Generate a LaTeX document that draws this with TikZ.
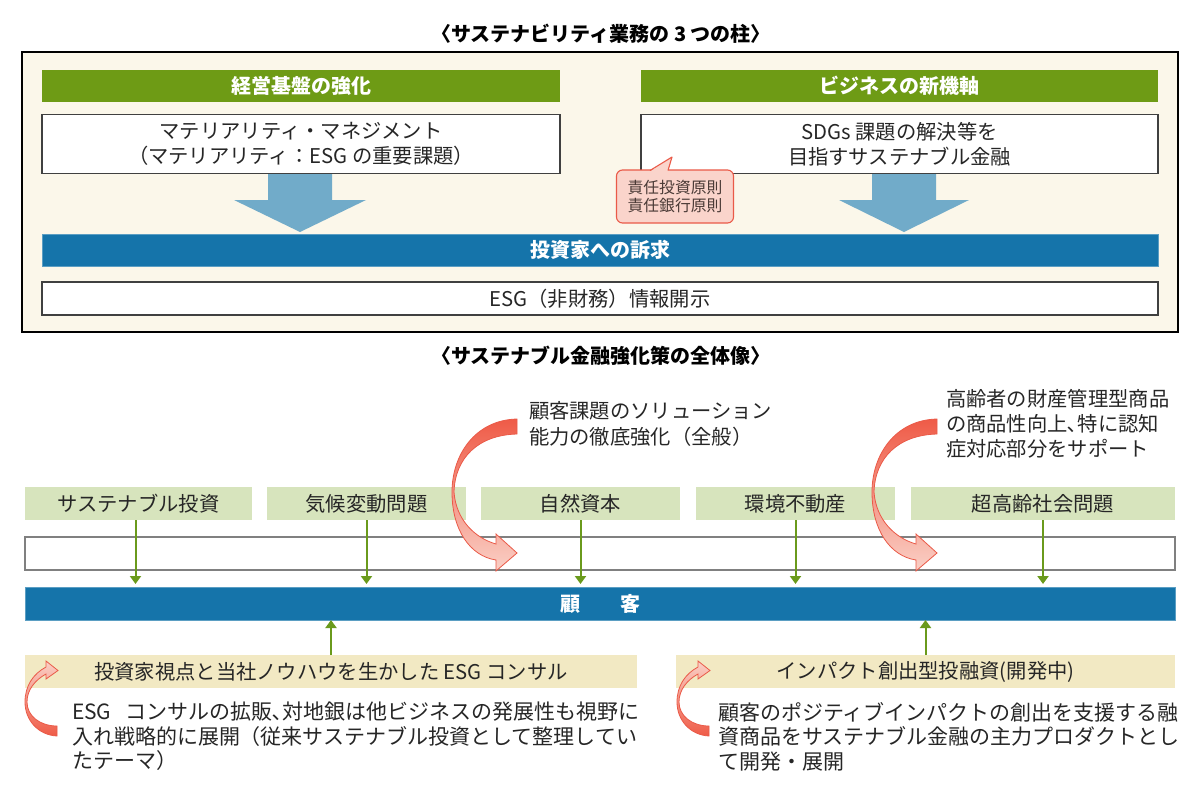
\documentclass[tikz,border=0pt]{standalone}
\usepackage{fontspec}
\setmainfont{Noto Sans CJK JP}
\usetikzlibrary{arrows.meta}
\definecolor{hdrgreen}{HTML}{6E9B15}
\definecolor{barblue}{HTML}{1574AA}
\definecolor{arrblue}{HTML}{71ABC9}
\definecolor{cream}{HTML}{FBF7EA}
\definecolor{lgreen}{HTML}{D7E4BD}
\definecolor{beige}{HTML}{F2E9C3}
\definecolor{agreen}{HTML}{6A9A1C}
\definecolor{txt}{HTML}{262626}
\definecolor{boxgray}{HTML}{404040}
\definecolor{stripgray}{HTML}{808080}
\definecolor{pinkfill}{HTML}{FAD4CB}
\definecolor{redline}{HTML}{EA5A48}
\definecolor{reddark}{HTML}{EF5B47}
\definecolor{redlight}{HTML}{FAD0C6}
\definecolor{calltext}{HTML}{4A3A36}
\begin{document}
\begin{tikzpicture}[x=1pt,y=-1pt,
  every node/.style={inner sep=0pt,outer sep=0pt,text=txt},
  ftext/.style={font=\fontsize{20.3}{25}\selectfont},
  fbold/.style={font=\bfseries\fontsize{20}{25}\selectfont},
  hdr/.style={fbold,fill=hdrgreen,text=white,minimum height=32pt},
  wbox/.style={ftext,fill=white,draw=boxgray,line width=1.3pt,align=center},
  bluebar/.style={fbold,fill=barblue,text=white,draw=barblue!70!white,line width=0.8pt},
  gbox/.style={ftext,fill=lgreen,minimum height=33pt},
  bbox/.style={ftext,fill=beige,minimum height=33pt},
  garrow/.style={draw=agreen,line width=2pt,-{Triangle[width=11pt,length=8pt]}},
  curly/.style={draw=redline,line width=0.8pt},
  ttl/.style={font=\bfseries\fontsize{20}{24}\selectfont,text=black},
  desc/.style={font=\fontsize{21}{24.5}\selectfont,align=left},
  callbox/.style={font=\fontsize{15.8}{18.5}\selectfont,align=center,text=calltext,
     fill=pinkfill,draw=redline,line width=1.1pt,rounded corners=6pt},
]
\useasboundingbox (0,0) rectangle (1200,796);

% ---------- top section ----------
\node[ttl] (t1) at (601,34) {〈サステナビリティ業務の 3 つの柱〉};
\node[draw=black,line width=2pt,fill=cream,minimum width=1156pt,minimum height=280pt] (frame) at (600,192) {};

% blue block arrows
\fill[arrblue] (268,170) -- (332,170) -- (332,200) -- (366,200) -- (300,232) -- (234,200) -- (268,200) -- cycle;
\fill[arrblue] (872,170) -- (936,170) -- (936,200) -- (969,200) -- (904,232) -- (839,200) -- (872,200) -- cycle;

\node[hdr,minimum width=518pt] (hL) at (301,86) {経営基盤の強化};
\node[hdr,minimum width=517pt] (hR) at (899.5,86) {ビジネスの新機軸};
\node[wbox,minimum width=518pt,minimum height=59pt] (wL) at (301,144) {マテリアリティ・マネジメント\\（マテリアリティ：ESG の重要課題）};
\node[wbox,minimum width=517pt,minimum height=59pt] (wR) at (899.5,144) {SDGs 課題の解決等を\\目指すサステナブル金融};
\node[bluebar,minimum width=1116pt,minimum height=32pt] (inv) at (600,250) {投資家への訴求};
\node[wbox,minimum width=1116pt,minimum height=33pt] (esg) at (600,298.5) {ESG（非財務）情報開示};

% callout
\node[callbox,minimum width=117pt,minimum height=53pt] (call) at (675,196.5) {責任投資原則\\責任銀行原則};
\coordinate (ctip) at (672,157);
\fill[pinkfill] (650,171.5) -- (ctip) -- (668,171.5) -- cycle;
\draw[redline,line width=1.1pt,line join=round] (650,170.5) -- (ctip) -- (668,170.5);

% ---------- bottom section ----------
\node[ttl] (t2) at (601,356) {〈サステナブル金融強化策の全体像〉};

\node[gbox,minimum width=227pt] (g1) at (138.5,503.5) {サステナブル投資};
\node[gbox,minimum width=199pt] (g2) at (366.5,503.5) {気候変動問題};
\node[gbox,minimum width=199pt] (g3) at (580.5,503.5) {自然資本};
\node[gbox,minimum width=199pt] (g4) at (795.5,503.5) {環境不動産};
\node[gbox,minimum width=264pt] (g5) at (1043,503.5) {超高齢社会問題};

\node[draw=stripgray,line width=1.2pt,fill=white,minimum width=1150pt,minimum height=33pt] (strip) at (600,553.5) {};
\node[bluebar,minimum width=1150pt,minimum height=33pt] (cust) at (600,603.5) {顧　　客};

\node[bbox,minimum width=612pt] (b1) at (331,671.5) {投資家視点と当社ノウハウを生かした ESG コンサル};
\node[bbox,minimum width=499pt] (b2) at (925.5,671.5) {インパクト創出型投融資(開発中)};

% green arrows
\draw[garrow,shorten >=3pt] ([xshift=-3pt]g1.south) -- ([xshift=-3pt]g1.south |- cust.north);
\draw[garrow,shorten >=3pt] (g2.south) -- (g2.south |- cust.north);
\draw[garrow,shorten >=3pt] (g3.south) -- (g3.south |- cust.north);
\draw[garrow,shorten >=3pt] (g4.south) -- (g4.south |- cust.north);
\draw[garrow,shorten >=3pt] (g5.south) -- (g5.south |- cust.north);
\draw[garrow] (b1.north) -- (b1.north |- cust.south);
\draw[garrow] (b2.north) -- (b2.north |- cust.south);

% big curved arrows
\foreach \dx in {0,420}{
\begin{scope}[xshift=\dx]
\path[curly,top color=reddark,bottom color=redlight]
  (517,419) .. controls (475,420) and (452,455) .. (452,492)
  .. controls (452,530) and (470,556) .. (496,560)
  -- (496,571) -- (517,553) -- (496,534) -- (496,544)
  .. controls (475,538) and (456,520) .. (454,492)
  .. controls (455,458) and (478,435) .. (517,434) -- cycle;
\end{scope}}

% small curved arrows
\foreach \dx in {0,652}{
\begin{scope}[xshift=\dx]
\path[curly,top color=redlight,bottom color=reddark]
  (57,736) .. controls (38,735) and (25,720) .. (25,702)
  .. controls (25,686) and (33,674) .. (46,667)
  -- (46,661) -- (58,670.5) -- (46,679) -- (46,674)
  .. controls (35,680) and (27,690) .. (27,702)
  .. controls (27,716) and (40,726) .. (57,726) -- cycle;
\end{scope}}

% annotation texts
\node[font=\fontsize{20.3}{26}\selectfont,align=left,anchor=north west] (n1) at (529,401) {顧客課題のソリューション\\能力の徹底強化（全般）};
\node[font=\fontsize{20.3}{25}\selectfont,align=left,anchor=north west] (n2) at (946,389) {高齢者の財産管理型商品\\の商品性向上､特に認知\\症対応部分をサポート};

\node[desc,anchor=north west] (d1) at (72,702) {ESG\hspace{14pt}コンサルの拡販､対地銀は他ビジネスの発展性も視野に\\入れ戦略的に展開（従来サステナブル投資として整理してい\\たテーマ）};
\node[desc,anchor=north west] (d2) at (718,702) {顧客のポジティブインパクトの創出を支援する融\\資商品をサステナブル金融の主力プロダクトとし\\て開発・展開};
\end{tikzpicture}
\end{document}
